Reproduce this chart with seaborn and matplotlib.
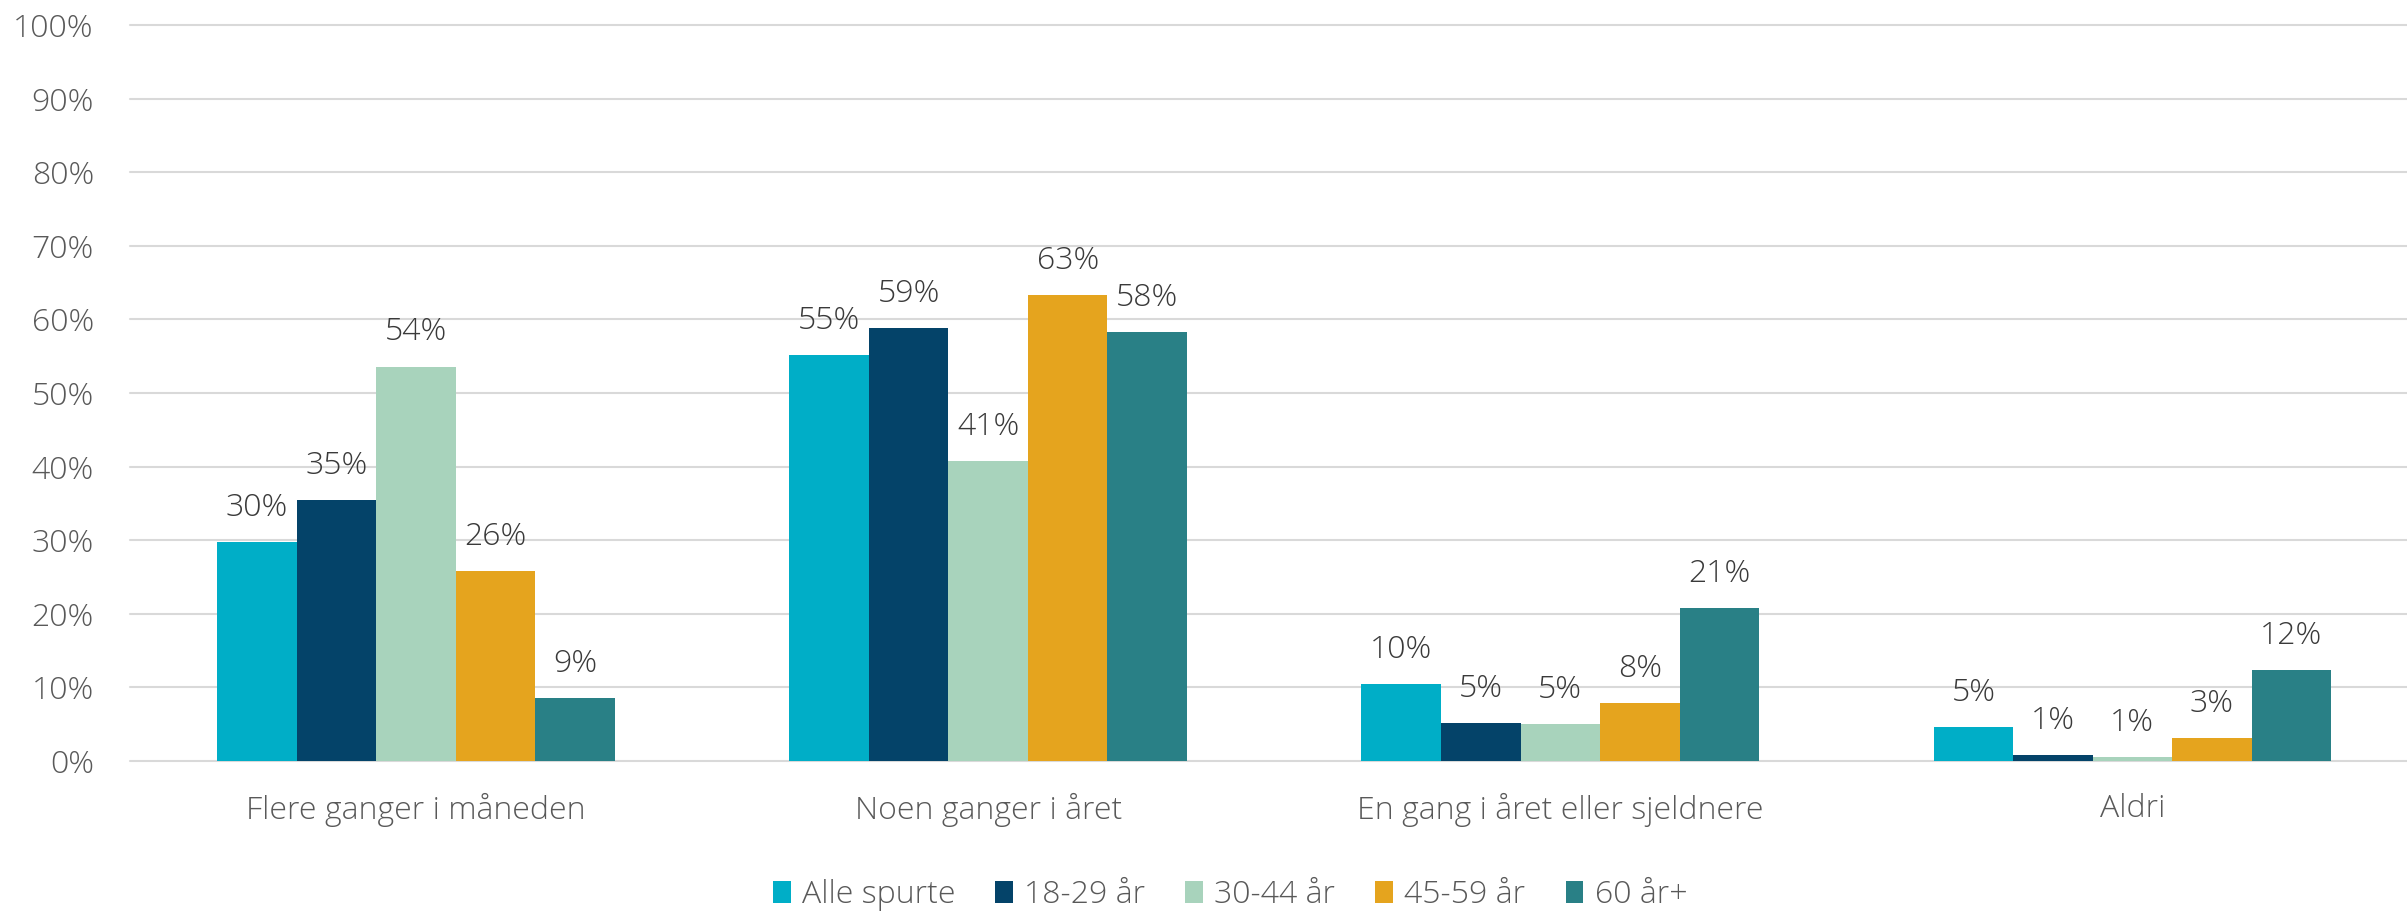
import numpy as np
import pandas as pd
import matplotlib.pyplot as plt
import seaborn as sns

# Data (percent)
categories = ["Flere ganger i måneden", "Noen ganger i året",
              "En gang i året eller sjeldnere", "Aldri"]
groups = ["Alle spurte", "18-29 år", "30-44 år", "45-59 år", "60 år+"]
alle_spurte = [29.8, 55.2, 10.4, 4.6]
age_18_29 = [35.4, 58.8, 5.2, 0.8]
age_30_44 = [53.6, 40.8, 5.0, 0.6]
age_45_59 = [25.8, 63.3, 7.9, 3.1]
age_60_plus = [8.6, 58.3, 20.8, 12.3]
colors = ["#00AEC7", "#044369", "#A8D3BC", "#E5A41E", "#298086"]

series = [alle_spurte, age_18_29, age_30_44, age_45_59, age_60_plus]
df = pd.DataFrame({
    "Kategori": categories * len(groups),
    "Gruppe": [g for g in groups for _ in categories],
    "Andel": [v for s in series for v in s],
})

sns.set_theme(style="white")
plt.rcParams["font.family"] = ["Open Sans", "DejaVu Sans"]
plt.rcParams["font.weight"] = "light"

W, H = 2407, 914
fig, ax = plt.subplots(figsize=(W / 100, H / 100), dpi=100)
fig.subplots_adjust(left=130 / W, right=1.0, top=1 - 25 / H, bottom=1 - 761 / H)

sns.barplot(data=df, x="Kategori", y="Andel", hue="Gruppe", order=categories,
            hue_order=groups, palette=colors, saturation=1, width=0.695,
            linewidth=0, errorbar=None, ax=ax)

# Data labels
for cont, s in zip(ax.containers, series):
    ax.bar_label(cont, labels=[f"{v:.0f}%" for v in s], padding=13,
                 fontsize=23, color="#3a3a3a")

ax.set_ylim(0, 100)
ax.set_xlim(-0.5, 3.48)
ax.set_yticks(range(0, 101, 10))
ax.set_yticklabels([f"{t}%" for t in range(0, 101, 10)])
ax.set_xlabel("")
ax.set_ylabel("")
ax.tick_params(axis="both", length=0, labelsize=23, labelcolor="#595959")
ax.tick_params(axis="y", pad=26)
ax.tick_params(axis="x", pad=23)

ax.set_axisbelow(True)
ax.yaxis.grid(True, color="#d9d9d9", linewidth=1.5)
for line in ax.get_ygridlines():
    line.set_clip_on(False)
for sp in ax.spines.values():
    sp.set_visible(False)

handles, labels = ax.get_legend_handles_labels()
ax.get_legend().remove()
fig.legend(handles, labels, loc="center", bbox_to_anchor=(1230 / W, 1 - 895 / H),
           ncol=5, frameon=False, fontsize=23, labelcolor="#595959",
           handlelength=0.56, handleheight=0.7, handletextpad=0.35,
           columnspacing=1.25, borderaxespad=0)

plt.savefig("out.png", dpi=100)
plt.close()
